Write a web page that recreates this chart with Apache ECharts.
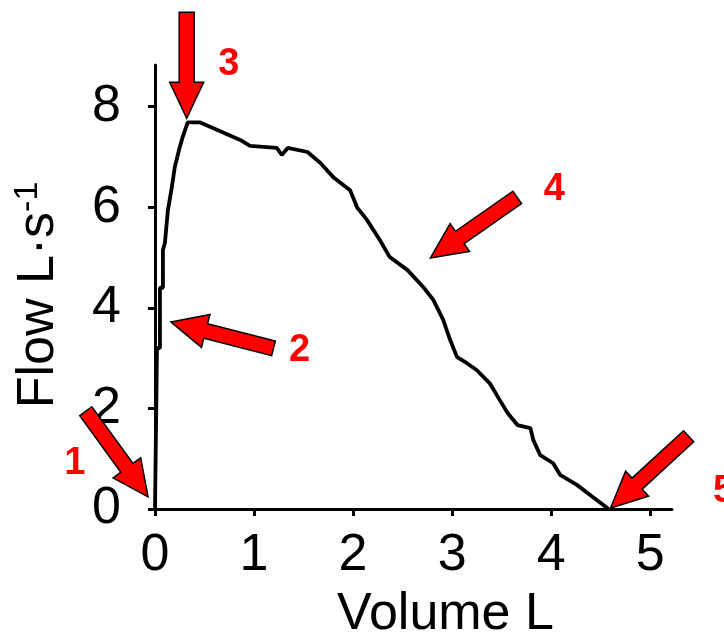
<!DOCTYPE html>
<html>
<head>
<meta charset="utf-8">
<script src="https://cdn.jsdelivr.net/npm/echarts@6/dist/echarts.min.js"></script>
<style>
html,body{margin:0;padding:0;background:#fff;}
#c{width:724px;height:633px;}
</style>
</head>
<body>
<div id="c"></div>
<script>
// ---- data ----
var volume = [0, 0.02, 0.05, 0.05, 0.08, 0.08, 0.10, 0.13, 0.17, 0.20, 0.25, 0.28, 0.33, 0.45, 0.59, 0.86, 0.96, 1.23, 1.28, 1.34, 1.54, 1.67, 1.80, 1.97, 2.04, 2.14, 2.27, 2.37, 2.55, 2.71, 2.81, 2.91, 2.98, 3.05, 3.15, 3.25, 3.38, 3.48, 3.56, 3.66, 3.79, 3.82, 3.89, 4.02, 4.09, 4.26, 4.42, 4.58];
var flow   = [0, 3.2, 3.2, 4.4, 4.4, 5.15, 5.29, 5.94, 6.40, 6.80, 7.20, 7.40, 7.69, 7.69, 7.57, 7.34, 7.22, 7.18, 7.04, 7.18, 7.10, 6.88, 6.60, 6.34, 6.00, 5.75, 5.35, 5.01, 4.75, 4.41, 4.16, 3.76, 3.36, 3.02, 2.90, 2.76, 2.50, 2.17, 1.91, 1.67, 1.61, 1.37, 1.07, 0.91, 0.68, 0.48, 0.24, 0];
var xTicks = [0, 1, 2, 3, 4, 5];
var yTicks = [0, 2, 4, 6, 8];
var xName = 'Volume L';
var yNameMain = 'Flow L·s';
var yNameSup = '-1';
// annotation arrows: label and tip (in data units)
var arrowLabels = ['1', '2', '3', '4', '5'];
var arrowTipVol  = [-0.07, 0.16, 0.32, 2.78, 4.60];
var arrowTipFlow = [0.24, 3.72, 7.77, 4.99, 0.02];

// ---- layout / style (not data) ----
var arrowTailOffset = [[-61, -84], [101, 26], [0, -106], [83, -58], [74, -68]];
var labelOffset = [[-11, 52], [26, 2], [42, 52], [37, -8], [35, 55]];

var chart = echarts.init(document.getElementById('c'));
var pts = volume.map(function (v, i) { return [v, flow[i]]; });
var font = 'Liberation Sans, Arial, sans-serif';

chart.setOption({
  animation: false,
  backgroundColor: '#fff',
  grid: { left: 155, right: 52, top: 65, bottom: 124, containLabel: false, outerBoundsMode: 'none' },
  xAxis: {
    type: 'value', min: 0, max: 5.22,
    name: xName, nameLocation: 'middle', nameGap: 80,
    nameTextStyle: { fontSize: 52, fontFamily: font, color: '#000', padding: [0, 0, 0, 64] },
    axisLine: { show: true, onZero: false, lineStyle: { color: '#000', width: 3 } },
    axisTick: { show: true, length: 7, lineStyle: { color: '#000', width: 3 }, customValues: xTicks },
    axisLabel: { fontSize: 52, fontFamily: font, color: '#000', margin: 21, customValues: xTicks },
    splitLine: { show: false }
  },
  yAxis: {
    type: 'value', min: 0, max: 8.83,
    name: '{a|' + yNameMain + '}{b|' + yNameSup + '}', nameLocation: 'middle', nameGap: 88, nameRotate: 90,
    nameTextStyle: {
      fontSize: 52, fontFamily: font, color: '#000', padding: [0, 16, 0, 0],
      rich: {
        a: { fontSize: 52, fontFamily: font, color: '#000' },
        b: { fontSize: 34, fontFamily: font, color: '#000', verticalAlign: 'top', padding: [0, 0, 22, 0] }
      }
    },
    axisLine: { show: true, onZero: false, lineStyle: { color: '#000', width: 3 } },
    axisTick: { show: true, length: 7, lineStyle: { color: '#000', width: 3 }, customValues: yTicks },
    axisLabel: { fontSize: 52, fontFamily: font, color: '#000', margin: 34, customValues: yTicks },
    splitLine: { show: false }
  },
  series: [{
    type: 'line', data: pts, showSymbol: false, symbol: 'none', smooth: false,
    lineStyle: { color: '#000', width: 3.8 }, clip: false, z: 3
  }]
});

// arrows drawn at tip positions converted through the chart's scales
var L = 106, H = 36, W = 34, w = 15;
var graphics = [];
arrowLabels.forEach(function (lab, i) {
  var tip = chart.convertToPixel({ gridIndex: 0 }, [arrowTipVol[i], arrowTipFlow[i]]);
  var off = arrowTailOffset[i];
  var len = Math.sqrt(off[0] * off[0] + off[1] * off[1]);
  var ux = -off[0] / len, uy = -off[1] / len; // direction tail->tip
  var px = -uy, py = ux;
  function P(a, b) { return [tip[0] + ux * a + px * b, tip[1] + uy * a + py * b]; }
  var poly = [P(0, 0), P(-H, W / 2), P(-H, w / 2), P(-L, w / 2), P(-L, -w / 2), P(-H, -w / 2), P(-H, -W / 2)];
  graphics.push({
    type: 'polygon', shape: { points: poly }, z: 10,
    style: { fill: '#ff0000', stroke: '#000', lineWidth: 1.5, lineJoin: 'miter' }
  });
  var tail = [tip[0] - ux * L, tip[1] - uy * L];
  graphics.push({
    type: 'text', z: 10,
    x: tail[0] + labelOffset[i][0], y: tail[1] + labelOffset[i][1],
    style: { text: lab, fill: '#ff0000', font: 'bold 38px ' + font, textAlign: 'center', textVerticalAlign: 'middle' }
  });
});
chart.setOption({ graphic: graphics });
</script>
</body>
</html>
